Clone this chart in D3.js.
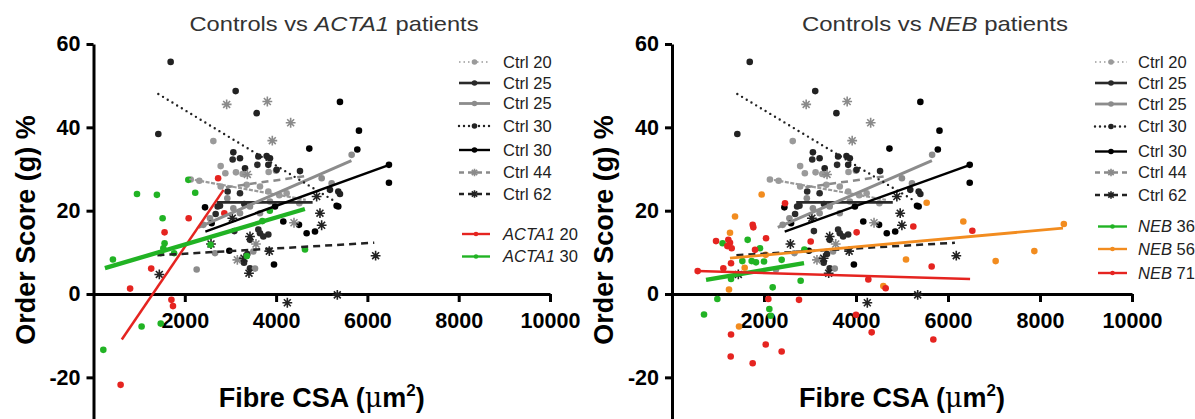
<!DOCTYPE html>
<html>
<head>
<meta charset="utf-8">
<script src="https://cdn.jsdelivr.net/npm/d3@7"></script>
<style>
  body { margin: 0; background: #fff; }
  svg { display: block; font-family: "Liberation Sans", Arial, sans-serif; }
</style>
</head>
<body>
<svg id="chart" width="1195" height="419"></svg>
<script>
// ---- data (fibre CSA in um2, order score in %) ----
const xTicks = [2000, 4000, 6000, 8000, 10000];
const yTicks = [-20, 0, 20, 40, 60];

const ctrl20 = [[2129,27.5],[2318,27.2],[2786,25.8],[3355,26.2],[3647,25.8],[3830,24.6],[4070,23.7],[4231,24.2],[4508,21.8],[2625,36.7],[2786,30.7],[2888,29],[3121,29.2],[3267,28.8],[3837,29.3],[3997,29.6]];
const ctrl20Fit = [[2100,27.6],[4650,22.6]];

const ctrl25b = [[2939,24.6],[3209,24.2],[2771,21.2],[3304,21.6],[2720,21],[3611,15.5],[3647,14.6],[3830,14.3],[3428,13],[3720,13.8],[3297,7.5],[3428,6.2],[3370,9.6],[3589,31],[3048,32.3],[3085,15.1],[2676,19.2]];
const ctrl25bFit = [[2700,22],[4800,22]];

const ctrl25g = [[2406,16.6],[2552,18.2],[2931,23],[3063,20.6],[3209,19.4],[3428,21],[3647,19.4],[3866,22.2],[4998,27.8],[5217,26.6],[5655,33.4],[2260,5.9],[3538,6.1],[2662,9.8],[3501,10.2]];
const ctrl25gFit = [[2300,16],[5650,32]];

const ctrl30d = [[1690,55.7],[1420,38.4],[3114,48.7],[3574,43.4],[3063,34],[3209,32.6],[3793,33.1],[3866,32.6],[3830,31],[4012,29.8],[3611,33],[4523,29.5],[5180,25],[5362,24.6],[5399,24],[3319,30.2]];
const ctrl30dFit = [[1420,48],[5250,22.5]];

const ctrl30 = [[6472,31],[6472,26.7],[5815,39.2],[5779,34.7],[5399,46.1],[4727,34.9],[5362,21],[5326,21.2],[4852,15],[4669,14.6],[4501,16.6],[4158,17.4],[3954,7.1],[3976,21],[2588,17],[2443,20.8],[2975,10.4]];
const ctrl30Fit = [[2450,15],[6480,31]];

const ctrl44 = [[2917,45.5],[3808,46.2],[4319,41.1],[3917,36.8],[3370,28.7],[4392,17.1],[3151,8.2],[3559,12]];
const ctrl44Fit = [[2900,25.6],[4650,28.3]];

const ctrl62 = [[1442,4.7],[2574,12],[3428,13.8],[3851,10.3],[4246,-2.1],[4961,19.4],[4998,16.5],[4888,23.4],[3406,5],[3297,8.6],[5341,-0.2],[6180,9.2],[3041,18.2]];
const ctrl62Fit = [[1400,9.3],[6150,12.3]];

const acta20 = [[594,-21.8],[802,1.3],[1264,6.1],[1557,14.8],[1707,-1.4],[1741,-2.9],[2085,18.2],[2730,27.8],[2866,19.4]];
const acta20Fit = [[620,-10.9],[2850,25]];

const acta30 = [[425,8.3],[215,-13.4],[953,24],[1389,23.8],[1514,18.2],[1557,12.2],[1473,9.8],[1766,9.8],[2077,27.4],[2228,24.3],[2563,11.8],[3359,9.1],[3862,20],[4633,10.7],[1054,-7.8],[1473,-7.1],[3700,17.5],[1530,11]];
const acta30Fit = [[250,6.2],[4630,20.4]];

const neb36 = [[696,-4.9],[986,-1.2],[1645,13],[1913,11],[1529,7.9],[1732,7.9],[1826,7.6],[2000,7.8],[2384,8.2],[1283,3.6],[2189,1.6],[2116,-3.6],[2145,-5.2],[2797,3.2],[2877,10.7],[1100,12.2]];
const neb36Fit = [[740,3.4],[2870,7.4]];

const neb56 = [[1370,18.6],[1261,14.7],[1580,6.3],[1239,1.1],[1457,-7.8],[5536,21.9],[6333,17.4],[5087,8.3],[7036,7.9],[7877,10.3],[4594,1.9],[1949,23.9],[8518,16.8],[2037,9.4]];
const neb56Fit = [[1260,8.6],[8500,15.8]];

const neb71 = [[558,5.5],[957,12.7],[1116,6.2],[1225,13],[1261,12.3],[1203,11.5],[1297,11],[1283,7.4],[1754,16.6],[1768,16],[1805,10.6],[2044,13.4],[2095,-1.2],[1283,-9.7],[1276,-15],[1754,-16.6],[2037,-12.1],[2384,-13.8],[2761,-1.4],[2457,21.8],[3015,12.6],[4014,14.8],[4000,-5],[4268,3.5],[4341,-9.2],[4645,1.4],[5246,16.2],[5645,6.6],[5681,-10.9],[6529,15.2]];
const neb71Fit = [[558,5.5],[6480,3.6]];

// ---- series + styles ----
const controls = [
  { label: "Ctrl 20", pts: ctrl20, fit: ctrl20Fit, color: "#9a9a9a", shape: "circle", dash: "4,1.5", width: 2.2, legDash: "1.5,3" },
  { label: "Ctrl 25", pts: ctrl25b, fit: ctrl25bFit, color: "#2a2a2a", shape: "circle", dash: null, width: 2.6 },
  { label: "Ctrl 25", pts: ctrl25g, fit: ctrl25gFit, color: "#8c8c8c", shape: "circle", dash: null, width: 3 },
  { label: "Ctrl 30", pts: ctrl30d, fit: ctrl30dFit, color: "#222", shape: "circle", dash: "0,5.5", width: 2.4, cap: "round" },
  { label: "Ctrl 30", pts: ctrl30, fit: ctrl30Fit, color: "#000", shape: "circle", dash: null, width: 2.4 },
  { label: "Ctrl 44", pts: ctrl44, fit: ctrl44Fit, color: "#8a8a8a", shape: "star", dash: "7,5", width: 2.5 },
  { label: "Ctrl 62", pts: ctrl62, fit: ctrl62Fit, color: "#222", shape: "star", dash: "7,5", width: 2.5 }
];

const panels = [
  {
    title: ["Controls vs ", "ACTA1", " patients"], titleX: 334, titleLen: 289,
    x0: 93.5, x1: 550,
    legX: 459, legLen: 31, legText: 503,
    ctrlRows: [62, 83, 103.5, 126, 150, 172.5, 194],
    patRows: [234, 256.5],
    patients: [
      { gene: "ACTA1", label: " 20", pts: acta20, fit: acta20Fit, color: "#e52420", width: 2.5 },
      { gene: "ACTA1", label: " 30", pts: acta30, fit: acta30Fit, color: "#21b324", width: 4.4 }
    ]
  },
  {
    title: ["Controls vs ", "NEB", " patients"], titleX: 935, titleLen: 266,
    x0: 672, x1: 1132,
    legX: 1095, legLen: 32, legText: 1138,
    ctrlRows: [62, 83, 104, 126.5, 151.5, 172.5, 195],
    patRows: [226.5, 249, 273],
    patients: [
      { gene: "NEB", label: " 36", pts: neb36, fit: neb36Fit, color: "#21b324", width: 4.4 },
      { gene: "NEB", label: " 56", pts: neb56, fit: neb56Fit, color: "#f28c1f", width: 2.8 },
      { gene: "NEB", label: " 71", pts: neb71, fit: neb71Fit, color: "#e52420", width: 2.5 }
    ]
  }
];

const svg = d3.select("#chart");
svg.append("rect").attr("width", 1195).attr("height", 419).attr("fill", "#fff");

const y = d3.scaleLinear().domain([-40, 60]).range([460.7, 44]);

function starPath(r) {
  const k = r * 0.707;
  return `M${-r},0H${r}M0,${-r}V${r}M${-k},${-k}L${k},${k}M${-k},${k}L${k},${-k}`;
}

function drawMarker(g, shape, color, cx, cy, r) {
  if (shape === "star") {
    g.append("path")
      .attr("d", starPath(r + 1.6))
      .attr("transform", `translate(${cx},${cy})`)
      .attr("stroke", color)
      .attr("stroke-width", 1.6)
      .attr("fill", "none");
  } else {
    g.append("circle").attr("cx", cx).attr("cy", cy).attr("r", r).attr("fill", color);
  }
}

panels.forEach((p) => {
  const x = d3.scaleLinear().domain([0, 10000]).range([p.x0, p.x1]);
  const g = svg.append("g");
  const line = d3.line().x((d) => x(d[0])).y((d) => y(d[1]));

  // axes
  const yAxis = g.append("g")
    .attr("transform", `translate(${p.x0},0)`)
    .call(d3.axisLeft(y).tickValues(yTicks).tickFormat((d) => String(d))
      .tickSize(7).tickSizeOuter(0).tickPadding(6));
  const xAxis = g.append("g")
    .attr("transform", `translate(0,${y(0)})`)
    .call(d3.axisBottom(x).tickValues(xTicks).tickFormat((d) => String(d))
      .tickSize(8).tickSizeOuter(0).tickPadding(11));
  [yAxis, xAxis].forEach((a) => {
    a.select(".domain").attr("stroke", "#000").attr("stroke-width", 3);
    a.selectAll(".tick line").attr("stroke", "#000").attr("stroke-width", 3);
    a.selectAll(".tick text")
      .attr("fill", "#000")
      .style("font-family", "'Liberation Sans', Arial, sans-serif")
      .style("font-size", "21.5px")
      .style("font-weight", "bold");
  });

  // control points
  const pts = g.append("g");
  controls.forEach((s) => {
    s.pts.forEach((d) => drawMarker(pts, s.shape, s.color, x(d[0]), y(d[1]), 3.3));
  });
  // control fit lines
  controls.forEach((s) => {
    g.append("path")
      .attr("d", line(s.fit))
      .attr("fill", "none")
      .attr("stroke", s.color)
      .attr("stroke-width", s.width)
      .attr("stroke-linecap", s.cap || "butt")
      .attr("stroke-dasharray", s.dash);
  });
  // patient points and lines
  p.patients.forEach((s) => {
    s.pts.forEach((d) => drawMarker(pts, "circle", s.color, x(d[0]), y(d[1]), 3.3));
  });
  p.patients.forEach((s) => {
    g.append("path")
      .attr("d", line(s.fit))
      .attr("fill", "none")
      .attr("stroke", s.color)
      .attr("stroke-width", s.width);
  });

  // title
  const t = g.append("text")
    .attr("x", p.titleX)
    .attr("y", 31)
    .attr("text-anchor", "middle")
    .attr("fill", "#333")
    .attr("font-size", 21)
    .attr("textLength", p.titleLen)
    .attr("lengthAdjust", "spacingAndGlyphs");
  t.append("tspan").text(p.title[0]);
  t.append("tspan").attr("font-style", "italic").text(p.title[1]);
  t.append("tspan").text(p.title[2]);

  // axis titles
  g.append("text")
    .attr("transform", `translate(${p.x0 - 59},230) rotate(-90)`)
    .attr("text-anchor", "middle")
    .attr("font-size", 27)
    .attr("font-weight", "bold")
    .attr("fill", "#000")
    .text("Order Score (g) %");
  const xt = g.append("text")
    .attr("x", (p.x0 + p.x1) / 2)
    .attr("y", 407)
    .attr("text-anchor", "middle")
    .attr("font-size", 27)
    .attr("font-weight", "bold")
    .attr("fill", "#000");
  xt.append("tspan").text("Fibre CSA (");
  xt.append("tspan").attr("font-weight", "normal").attr("font-family", "'DejaVu Serif', serif").text("\u03bc");
  xt.append("tspan").text("m");
  xt.append("tspan").attr("font-size", 17).attr("dy", -11).text("2");
  xt.append("tspan").attr("dy", 11).text(")");

  // legend
  const leg = g.append("g");
  const lx = p.legX, lw = p.legLen;
  controls.forEach((s, i) => {
    const ry = p.ctrlRows[i];
    leg.append("line")
      .attr("x1", lx).attr("x2", lx + lw).attr("y1", ry).attr("y2", ry)
      .attr("stroke", s.color)
      .attr("stroke-width", s.legDash ? 1.6 : Math.min(s.width, 2.8))
      .attr("stroke-linecap", s.cap || "butt")
      .attr("stroke-dasharray", s.legDash || (s.cap ? "0,5" : s.dash ? "5,4" : null));
    drawMarker(leg, s.shape, s.color, lx + lw / 2, ry, s.shape === "star" ? 2.2 : 2.8);
    leg.append("text")
      .attr("x", p.legText).attr("y", ry + 5.7)
      .attr("font-size", 16.5).attr("fill", "#222")
      .text(s.label);
  });
  p.patients.forEach((s, i) => {
    const ry = p.patRows[i];
    leg.append("line")
      .attr("x1", lx + 3).attr("x2", lx + lw).attr("y1", ry).attr("y2", ry)
      .attr("stroke", s.color).attr("stroke-width", 2.4);
    leg.append("circle").attr("cx", lx + lw / 2 + 1.5).attr("cy", ry).attr("r", 2.3).attr("fill", s.color);
    const tx = leg.append("text")
      .attr("x", p.legText).attr("y", ry + 5.7)
      .attr("font-size", 16.5).attr("fill", "#222");
    tx.append("tspan").attr("font-style", "italic").text(s.gene);
    tx.append("tspan").text(s.label);
  });
});
</script>
</body>
</html>
